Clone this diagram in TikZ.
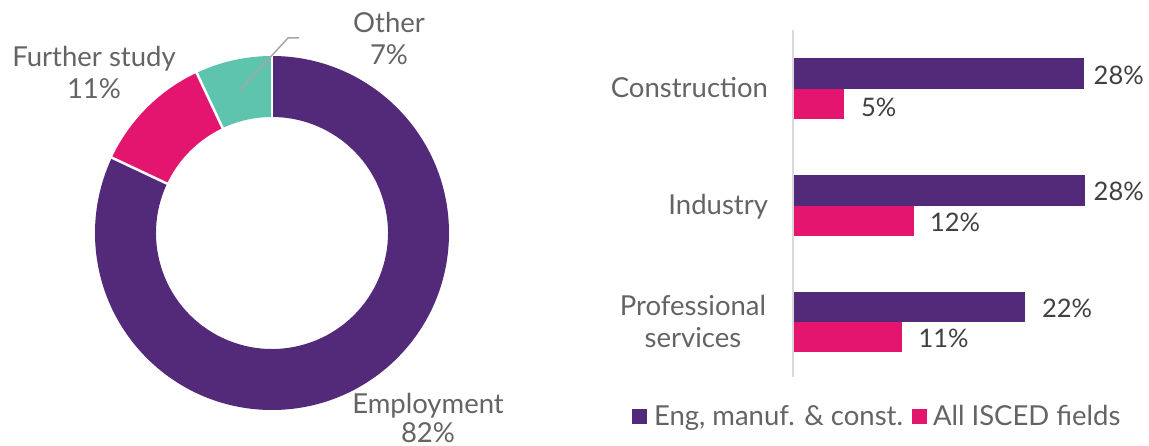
\documentclass[tikz,border=0pt]{standalone}
\usepackage{fontspec}
\setmainfont{Lato}
\definecolor{cpurple}{RGB}{82,42,121}
\definecolor{cpink}{RGB}{227,21,110}
\definecolor{cteal}{RGB}{95,196,174}
\definecolor{ctext}{RGB}{100,100,100}
\definecolor{cval}{RGB}{64,64,64}
\definecolor{caxis}{RGB}{217,217,217}
\definecolor{clead}{RGB}{166,166,166}
\begin{document}
\begin{tikzpicture}[x=1pt,y=-1pt,
  lbl/.style={inner sep=0pt,outer sep=0pt,text=ctext,font=\fontsize{27.5}{32}\selectfont},
  val/.style={inner sep=0pt,outer sep=0pt,text=cval,font=\fontsize{25.5}{30}\selectfont,anchor=base west},
  sep/.style={draw=white,line width=2.5pt},
  barA/.style={fill=cpurple},
  barB/.style={fill=cpink}]
\useasboundingbox (0,0) rectangle (1149,446);
% donut
\begin{scope}[shift={(272,233)},yscale=-1]
  \fill[cpurple] (90:177) arc[start angle=90,end angle=-205.2,radius=177] -- (-205.2:116) arc[start angle=-205.2,end angle=90,radius=116] -- cycle;
  \fill[cpink] (154.8:177) arc[start angle=154.8,end angle=115.2,radius=177] -- (115.2:116) arc[start angle=115.2,end angle=154.8,radius=116] -- cycle;
  \fill[cteal] (115.2:177) arc[start angle=115.2,end angle=90,radius=177] -- (90:116) arc[start angle=90,end angle=115.2,radius=116] -- cycle;
  \draw[sep] (90:112) -- (90:181);
  \draw[sep] (154.8:112) -- (154.8:181);
  \draw[sep] (115.2:112) -- (115.2:181);
\end{scope}
% leader line for Other
\coordinate (ldA) at (240,90);
\coordinate (ldB) at (288,38);
\coordinate (ldC) at (299,38);
\draw[clead,line width=1.5pt] (ldA) -- (ldB) -- (ldC);
% donut labels
\node[lbl,anchor=base] (oth1) at (389,33) {Other};
\node[lbl,anchor=base] (oth2) at (389,65) {7\%};
\node[lbl,anchor=base] (fs1) at (94,67) {Further study};
\node[lbl,anchor=base] (fs2) at (94,99) {11\%};
\node[lbl,anchor=base] (em1) at (428,413) {Employment};
\node[lbl,anchor=base] (em2) at (428,442) {82\%};
% axis
\coordinate (axT) at (792.5,30);
\coordinate (axB) at (792.5,377);
\draw[caxis,line width=2pt] (axT) -- (axB);
% bars
\fill[barA] (794,58.5) rectangle (1084,89);
\fill[barB] (794,89) rectangle (844,119.5);
\fill[barA] (794,175.5) rectangle (1085,205.6);
\fill[barB] (794,205.6) rectangle (913.7,236);
\fill[barA] (794,291.7) rectangle (1025,321.8);
\fill[barB] (794,321.8) rectangle (902,352.5);
% category labels
\node[lbl,anchor=base east] (cat1) at (768,97.7) {Construction};
\node[lbl,anchor=base east] (cat2) at (768,214.3) {Industry};
\node[lbl,anchor=base] (cat3a) at (693,315.9) {Professional};
\node[lbl,anchor=base] (cat3b) at (693,347.4) {services};
% values
\node[val] (v1) at (1093.7,84.8) {28\%};
\node[val] (v2) at (861,116.3) {5\%};
\node[val] (v3) at (1093.7,200.3) {28\%};
\node[val] (v4) at (930,231.8) {12\%};
\node[val] (v5) at (1042,317.6) {22\%};
\node[val] (v6) at (918.6,347.4) {11\%};
% legend
\fill[cpurple] (632,409) rectangle (647,424);
\node[lbl,anchor=base west] (lg1) at (654,425) {Eng, manuf. \& const.};
\fill[cpink] (912,409) rectangle (927,424);
\node[lbl,anchor=base west] (lg2) at (933,425) {All ISCED fields};
\end{tikzpicture}
\end{document}
